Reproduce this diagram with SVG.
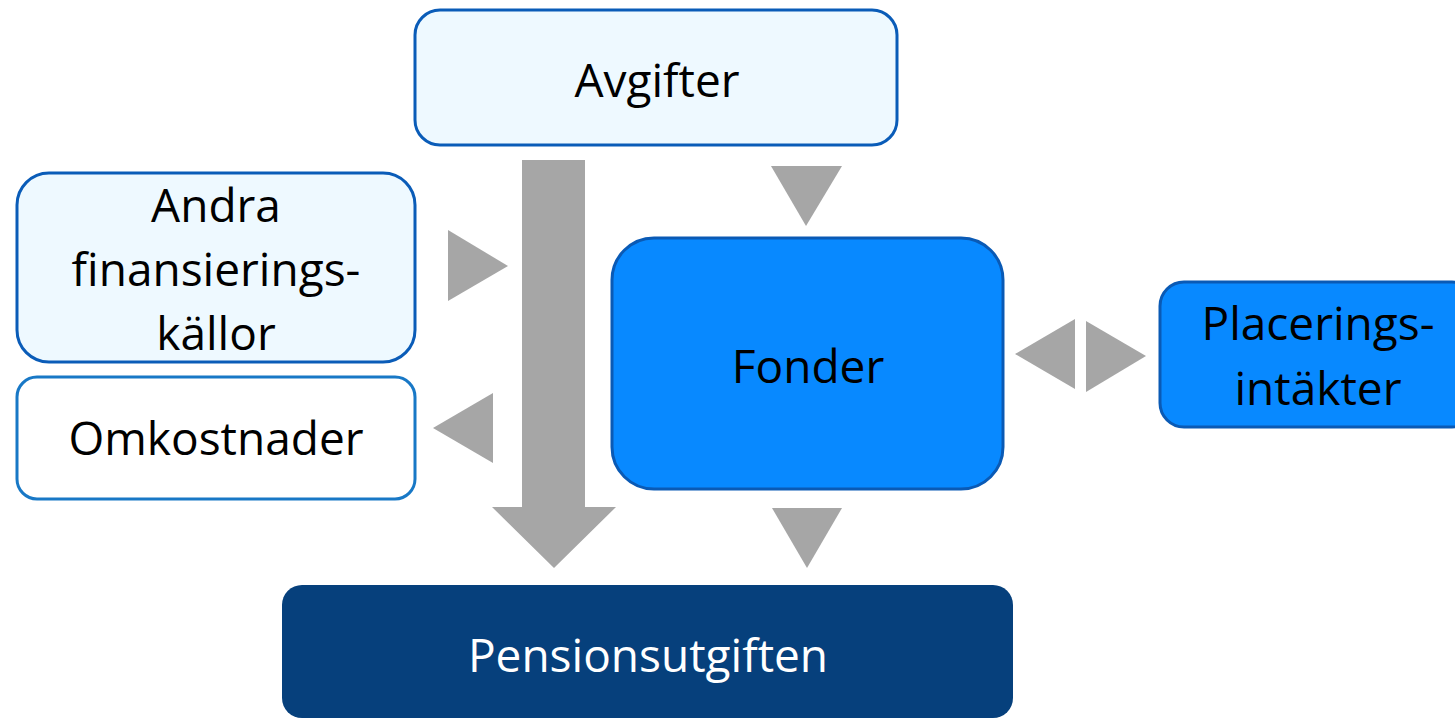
<svg xmlns="http://www.w3.org/2000/svg" width="1455" height="718" viewBox="0 0 1455 718">
<style>
.t{font-family:"Open Sans","Noto Sans","Liberation Sans",sans-serif;font-size:46px;text-anchor:middle;fill:#000}
.w{fill:#fff}
.light{fill:#EEF9FF;stroke:#0A5CB8;stroke-width:3}
.omk{fill:#fff;stroke:#1878C6;stroke-width:3}
.mid{fill:#0889FF;stroke:#0A5AB5;stroke-width:3}
.dark{fill:#06407C}
.ar{fill:#A6A6A6}
</style>
<rect width="1455" height="718" fill="#fff"/>
<g id="connectors">
<polygon class="ar" points="522,160 585,160 585,507 616,507 554,568 492,507 522,507"/>
<polygon class="ar" points="771,166 842,166 806,226"/>
<polygon class="ar" points="448,230 508,266 448,301"/>
<polygon class="ar" points="493,393 433,428 493,463"/>
<polygon class="ar" points="772,508 842,508 807,568"/>
<polygon class="ar" points="1075,319 1015,354 1075,389"/>
<polygon class="ar" points="1086,321 1146,356 1086,392"/>
</g>
<g id="avgifter">
<rect class="light" x="415" y="10" width="482" height="135" rx="25"/>
<text class="t" x="657" y="97">Avgifter</text>
</g>
<g id="andra">
<rect class="light" x="17" y="173" width="398" height="189" rx="32"/>
<text class="t" x="216" y="222">Andra</text>
<text class="t" x="216" y="286">finansierings-</text>
<text class="t" x="216" y="350">källor</text>
</g>
<g id="omkostnader">
<rect class="omk" x="17" y="377" width="398" height="122" rx="20"/>
<text class="t" x="216" y="455">Omkostnader</text>
</g>
<g id="fonder">
<rect class="mid" x="612" y="238" width="391" height="251" rx="42"/>
<text class="t" x="808" y="383">Fonder</text>
</g>
<g id="placerings">
<rect class="mid" x="1160" y="282" width="316" height="145" rx="24"/>
<text class="t" x="1318" y="340">Placerings-</text>
<text class="t" x="1318" y="405">intäkter</text>
</g>
<g id="pensionsutgiften">
<rect class="dark" x="282" y="585" width="731" height="133" rx="20"/>
<text class="t w" x="648" y="672">Pensionsutgiften</text>
</g>
</svg>
